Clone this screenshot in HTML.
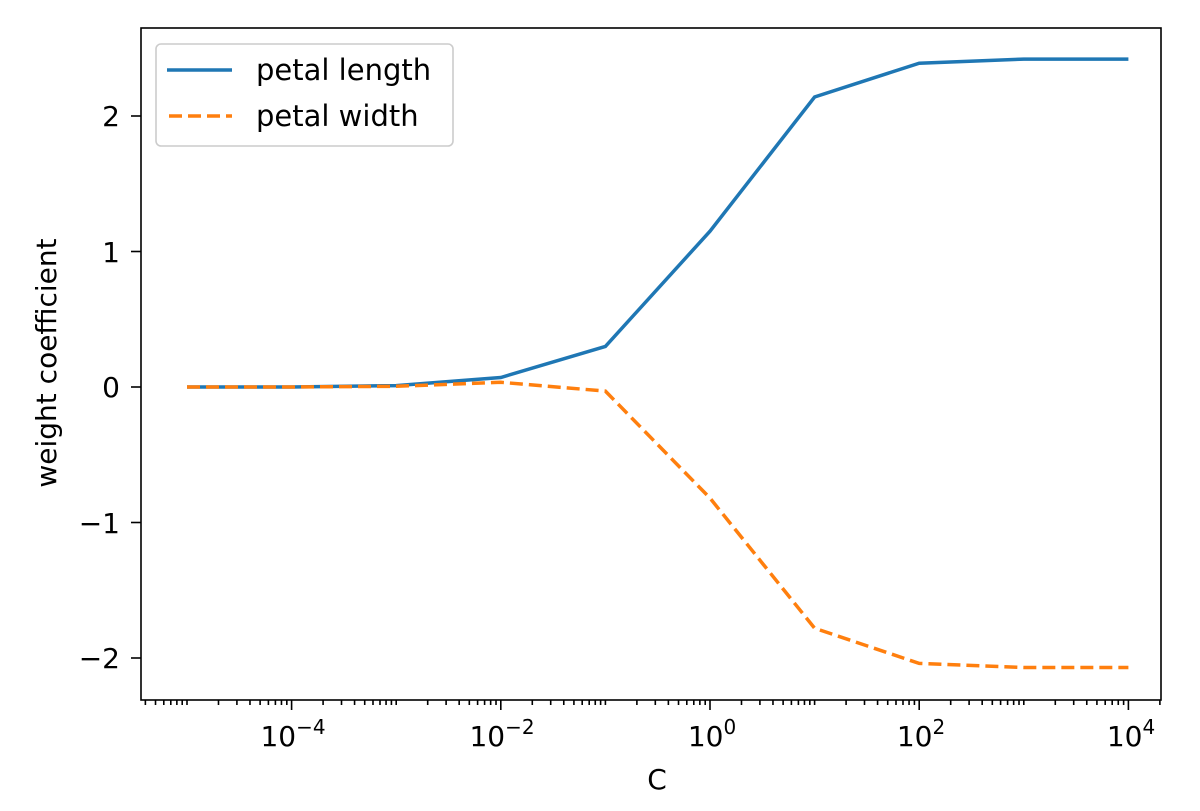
<!DOCTYPE html>
<html><head><style>body{margin:0;background:#fff}svg{display:block}text{font-family:"DejaVu Sans","Liberation Sans",sans-serif;fill:#000}</style></head>
<body>
<svg id="s" width="1200" height="811" xmlns="http://www.w3.org/2000/svg">
<rect x="141" y="28" width="1020" height="672" fill="none" stroke="#000" stroke-width="1.6"/>
<g id="ticks" stroke="#000" stroke-width="1.6"></g>
<g font-size="28" text-anchor="end">
<text x="120" y="126">2</text>
<text x="120" y="262">1</text>
<text x="120" y="397">0</text>
<text x="120" y="533">−1</text>
<text x="120" y="668">−2</text>
</g>
<g font-size="28" text-anchor="middle">
<text x="293" y="746">10<tspan font-size="20" dy="-12">−4</tspan></text>
<text x="502" y="746">10<tspan font-size="20" dy="-12">−2</tspan></text>
<text x="712" y="746">10<tspan font-size="20" dy="-12">0</tspan></text>
<text x="921" y="746">10<tspan font-size="20" dy="-12">2</tspan></text>
<text x="1131" y="746">10<tspan font-size="20" dy="-12">4</tspan></text>
<text x="657" y="789">C</text>
<text transform="translate(56,363) rotate(-90)">weight coefficient</text>
</g>
<polyline id="b" fill="none" stroke="#1f77b4" stroke-width="3.5"/>
<polyline id="o" fill="none" stroke="#ff7f0e" stroke-width="3.5" stroke-dasharray="13,6"/>
<rect x="156" y="44" width="297" height="102" rx="5" fill="#fff" fill-opacity="0.8" stroke="#ccc" stroke-width="1.6"/>
<line x1="167" y1="70" x2="232" y2="70" stroke="#1f77b4" stroke-width="3.5"/>
<line x1="169" y1="116" x2="232" y2="116" stroke="#ff7f0e" stroke-width="3.5" stroke-dasharray="13,6"/>
<text x="256" y="80" font-size="29">petal length</text>
<text x="256" y="126" font-size="29">petal width</text>
</svg>
<script>
var X=function(e){return 710+e*104.6},Y=function(v){return 387-v*135.5};
var bv=[0,0,0.01,0.07,0.3,1.15,2.14,2.39,2.42,2.42],ov=[0,0,0.005,0.035,-0.03,-0.82,-1.78,-2.04,-2.07,-2.07];
function pts(a){return a.map(function(v,i){return X(i-5).toFixed(1)+","+Y(v).toFixed(1)}).join(" ")}
document.getElementById("b").setAttribute("points",pts(bv));
document.getElementById("o").setAttribute("points",pts(ov));
var g=document.getElementById("ticks"),h="";
for(var e=-6;e<=4;e++){for(var k=1;k<10;k++){var x=X(e+Math.log10(k));if(x<141||x>1161)continue;
var L=(k==1&&e%2==0)?10:5;h+='<line x1="'+x+'" y1="700" x2="'+x+'" y2="'+(700+L)+'"/>';}}
[2,1,0,-1,-2].forEach(function(v){h+='<line x1="131" y1="'+Y(v)+'" x2="141" y2="'+Y(v)+'"/>'});
g.innerHTML=h;
</script>
</body></html>
